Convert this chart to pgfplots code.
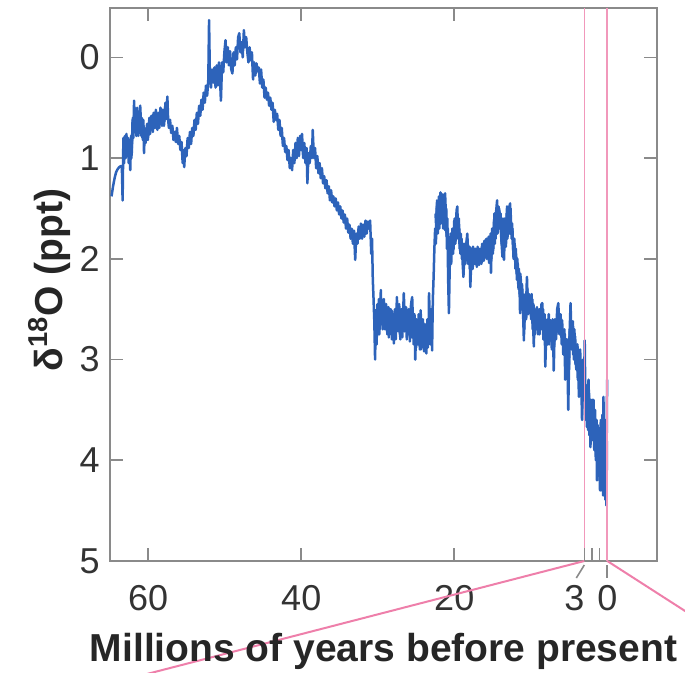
\documentclass[border=0pt]{standalone}
\usepackage{pgfplots}
\pgfplotsset{compat=1.18}
\usepackage{fontspec}
\setmainfont{Liberation Sans}
\definecolor{linblue}{HTML}{2D63BA}
\definecolor{pinkl}{HTML}{EE7FAA}
\definecolor{axgray}{HTML}{8A8A8A}
\definecolor{txt}{HTML}{333333}
\DeclareRobustCommand\dlabel{\textbf{δ\textsuperscript{18}O (ppt)}}
\pgfplotstableread{
x y
64.8 1.38
64.6 1.28
64.4 1.20
64.2 1.14
64.0 1.11
63.8 1.09
63.6 1.08
63.45 1.08
63.35 1.42
63.25 0.80
63.15 1.05
63.05 0.78
62.95 1.00
62.85 0.76
62.75 0.98
62.65 0.80
62.55 1.05
62.45 0.84
62.35 1.12
62.25 0.78
62.15 0.95
62.05 0.62
61.95 0.80
61.85 0.43
61.75 0.72
61.65 0.55
61.55 0.78
61.45 0.50
61.35 0.70
61.25 0.55
61.15 0.75
61.05 0.48
60.95 0.70
60.85 0.60
60.75 0.80
60.65 0.62
60.55 0.95
60.45 0.70
60.35 0.85
60.2 0.72
60.05 0.82
59.9 0.65
59.75 0.76
59.6 0.58
59.45 0.70
59.3 0.55
59.15 0.66
59.0 0.52
58.85 0.68
58.7 0.56
58.55 0.70
58.4 0.50
58.25 0.64
58.1 0.52
57.95 0.68
57.8 0.50
57.65 0.60
57.5 0.39
57.4 0.62
57.3 0.70
57.15 0.62
57.0 0.75
56.85 0.68
56.7 0.82
56.55 0.74
56.4 0.84
56.25 0.70
56.1 0.86
55.95 0.78
55.8 0.92
55.65 0.84
55.5 1.05
55.4 0.92
55.3 1.09
55.15 0.90
55.0 0.98
54.85 0.80
54.7 0.90
54.55 0.74
54.4 0.86
54.25 0.70
54.1 0.78
53.95 0.62
53.8 0.72
53.65 0.55
53.5 0.66
53.35 0.48
53.2 0.58
53.05 0.42
52.9 0.52
52.75 0.35
52.6 0.45
52.45 0.28
52.3 0.38
52.15 0.22
52.05 -0.37
51.95 0.15
51.8 0.30
51.65 0.12
51.5 0.25
51.35 0.10
51.2 0.30
51.05 0.08
50.9 0.28
50.75 0.05
50.6 0.25
50.5 0.43
50.35 0.05
50.2 0.15
50.05 -0.05
49.9 -0.17
49.75 0.05
49.6 -0.10
49.45 0.08
49.3 -0.06
49.15 0.12
49.0 0.16
48.85 -0.05
48.7 0.08
48.55 -0.10
48.4 0.02
48.25 -0.20
48.1 -0.24
47.95 -0.05
47.8 -0.15
47.65 0.00
47.5 -0.27
47.35 -0.10
47.2 -0.20
47.05 -0.05
46.9 0.05
46.75 -0.10
46.6 0.03
46.45 -0.05
46.3 0.22
46.15 0.05
46.0 0.18
45.85 0.06
45.7 0.14
45.55 0.10
45.4 0.26
45.25 0.12
45.1 0.30
44.95 0.22
44.8 0.40
44.65 0.30
44.5 0.42
44.35 0.35
44.2 0.48
44.05 0.40
43.9 0.52
43.75 0.45
43.6 0.64
43.45 0.52
43.3 0.62
43.15 0.56
43.0 0.72
42.85 0.62
42.7 0.78
42.55 0.70
42.4 0.88
42.25 0.80
42.1 0.94
41.95 0.88
41.8 1.02
41.65 0.92
41.5 1.10
41.35 1.00
41.2 1.12
41.05 0.92
40.9 1.05
40.75 0.85
40.6 1.00
40.45 0.80
40.3 0.98
40.15 0.78
40.0 0.92
39.9 0.76
39.75 1.00
39.6 0.85
39.45 1.05
39.3 0.90
39.2 1.25
39.05 0.95
38.9 1.05
38.75 0.88
38.6 1.00
38.5 0.72
38.35 1.00
38.2 0.90
38.05 1.10
37.9 0.98
37.75 1.15
37.6 1.05
37.45 1.20
37.3 1.10
37.15 1.25
37.0 1.18
36.85 1.30
36.7 1.22
36.55 1.35
36.4 1.28
36.25 1.42
36.1 1.32
35.95 1.44
35.8 1.38
35.65 1.48
35.5 1.40
35.35 1.52
35.2 1.44
35.05 1.56
34.9 1.48
34.75 1.60
34.6 1.52
34.45 1.64
34.3 1.56
34.15 1.70
34.0 1.60
33.85 1.74
33.7 1.66
33.55 1.80
33.4 1.70
33.25 1.85
33.1 1.72
32.95 2.01
32.8 1.75
32.65 1.85
32.5 1.68
32.35 1.80
32.2 1.65
32.05 1.80
31.9 1.66
31.75 1.78
31.6 1.62
31.45 1.75
31.3 1.63
31.15 1.70
31.0 1.62
30.85 1.95
30.75 1.80
30.65 2.20
30.55 2.40
30.45 2.62
30.35 3.00
30.25 2.55
30.15 2.85
30.05 2.45
29.95 2.75
29.85 2.40
29.75 2.70
29.6 2.31
29.5 2.65
29.4 2.42
29.3 2.58
29.2 2.40
29.05 2.70
28.9 2.45
28.75 2.75
28.6 2.48
28.45 2.72
28.3 2.50
28.15 2.80
28.0 2.55
27.9 2.84
27.75 2.50
27.6 2.70
27.5 2.38
27.35 2.72
27.2 2.45
27.05 2.80
26.9 2.50
26.75 2.70
26.6 2.34
26.45 2.65
26.3 2.48
26.1 2.68
25.95 2.50
25.8 2.82
25.65 2.45
25.5 2.38
25.35 2.75
25.2 2.55
25.1 3.00
24.95 2.60
24.8 2.85
24.65 2.55
24.5 2.90
24.4 2.51
24.25 2.80
24.1 2.60
23.95 2.92
23.8 2.65
23.65 2.94
23.5 2.60
23.35 2.80
23.3 2.34
23.15 2.70
23.0 2.50
22.9 2.91
22.8 2.40
22.7 2.18
22.6 1.90
22.5 1.70
22.4 1.85
22.3 1.50
22.2 1.45
22.1 1.60
22.0 1.38
21.9 1.55
21.8 1.34
21.65 1.50
21.5 1.36
21.35 1.60
21.2 1.35
21.1 1.55
21.0 1.78
20.9 1.60
20.8 2.20
20.7 2.54
20.6 2.10
20.5 1.85
20.4 2.05
20.3 1.78
20.15 1.95
20.0 1.62
19.85 1.85
19.7 1.52
19.6 1.48
19.5 1.80
19.35 1.70
19.2 1.95
19.05 1.80
18.9 2.05
18.8 2.18
18.7 1.90
18.55 2.05
18.4 1.85
18.3 1.75
18.15 2.00
18.0 1.88
17.9 2.28
17.75 1.95
17.6 2.10
17.45 1.90
17.3 2.05
17.2 1.91
17.05 2.08
16.9 1.92
16.75 2.06
16.6 1.95
16.45 2.05
16.3 1.88
16.15 2.02
15.9 1.85
15.75 2.00
15.6 1.80
15.45 2.04
15.3 1.78
15.2 2.14
15.1 1.80
14.95 1.95
14.8 1.62
14.7 1.85
14.55 1.55
14.4 1.42
14.3 1.70
14.15 1.50
14.0 1.58
13.85 1.80
13.7 1.98
13.6 1.70
13.5 2.01
13.4 1.75
13.25 1.88
13.1 1.48
13.0 1.70
12.85 1.50
12.7 1.45
12.6 1.75
12.45 1.65
12.3 1.90
12.2 1.95
12.1 1.85
12.0 2.10
11.9 1.98
11.8 2.21
11.7 2.05
11.6 2.30
11.5 2.15
11.4 2.54
11.3 2.20
11.2 2.40
11.1 2.30
10.9 2.81
10.8 2.40
10.65 2.55
10.5 2.18
10.4 2.45
10.25 2.35
10.1 2.38
9.95 2.60
9.8 2.40
9.6 2.87
9.5 2.50
9.35 2.70
9.2 2.48
9.05 2.75
8.9 2.50
8.75 2.65
8.6 2.45
8.5 2.44
8.35 2.80
8.2 2.55
8.1 3.07
7.95 2.65
7.8 2.85
7.65 2.55
7.5 2.80
7.4 2.61
7.25 2.90
7.1 2.65
7.0 3.11
6.85 2.60
6.7 2.80
6.55 2.50
6.4 2.44
6.25 2.75
6.1 2.55
5.95 2.85
5.9 2.61
5.75 2.95
5.6 2.70
5.5 3.20
5.35 2.80
5.2 3.05
5.1 3.50
4.95 2.80
4.8 2.44
4.65 2.90
4.5 2.62
4.35 3.00
4.2 2.77
4.05 3.10
3.9 2.85
3.7 3.37
3.55 2.90
3.4 3.20
3.3 3.60
3.15 3.00
3.05 3.40
2.95 2.81
2.85 3.50
2.75 3.30
2.65 3.67
2.55 3.35
2.45 3.20
2.35 3.75
2.25 3.45
2.2 3.87
2.1 3.50
2.0 3.80
1.9 3.45
1.8 3.40
1.7 3.90
1.6 3.50
1.5 4.00
1.4 3.60
1.35 4.20
1.25 3.65
1.15 4.10
1.05 3.70
0.95 4.30
0.85 3.60
0.75 4.25
0.65 3.55
0.55 4.35
0.5 3.37
0.4 4.20
0.3 3.70
0.26 4.39
0.18 3.80
0.12 4.45
0.06 3.60
0.02 3.20
}\dataA
\pgfplotstableread{
x y
62.4 0.95
62.3 0.82
62.2 1.0
62.1 0.78
62.0 0.6
61.9 0.75
61.8 0.5
61.7 0.68
61.6 0.52
61.5 0.72
61.4 0.58
61.3 0.78
61.2 0.6
61.1 0.72
61.0 0.55
60.9 0.78
60.8 0.62
60.7 0.82
60.6 0.68
60.5 0.85
60.4 0.72
60.3 0.8
60.15 0.66
60.0 0.78
59.85 0.6
59.7 0.72
59.55 0.6
59.4 0.74
59.25 0.58
59.1 0.7
58.95 0.55
58.8 0.72
58.65 0.55
58.5 0.66
58.35 0.55
58.2 0.68
58.05 0.55
57.9 0.64
57.75 0.45
57.6 0.62
nan nan
30.3 2.5
30.2 2.8
30.1 2.5
30.0 2.7
29.9 2.45
29.8 2.75
29.7 2.4
29.55 2.6
29.45 2.45
29.35 2.7
29.25 2.45
29.1 2.65
29.0 2.5
28.85 2.7
28.7 2.52
28.55 2.78
28.4 2.5
28.25 2.75
28.1 2.52
27.95 2.75
27.8 2.55
27.65 2.8
27.55 2.5
27.4 2.65
27.25 2.52
27.1 2.75
26.95 2.55
26.8 2.78
26.65 2.5
26.5 2.72
26.35 2.55
26.2 2.8
26.05 2.55
25.9 2.75
25.75 2.55
25.6 2.78
25.45 2.55
25.3 2.85
25.15 2.6
25.0 2.88
24.85 2.62
24.7 2.85
24.55 2.65
24.35 2.9
24.2 2.62
24.05 2.88
23.9 2.7
23.75 2.92
23.6 2.68
23.45 2.88
23.25 2.6
23.1 2.85
23.0 2.65
nan nan
22.45 1.55
22.35 1.7
22.25 1.42
22.15 1.75
22.05 1.45
21.95 1.7
21.85 1.4
21.75 1.65
21.6 1.38
21.45 1.7
21.3 1.4
21.15 1.72
21.05 1.5
20.95 1.9
20.85 1.7
20.75 2.0
20.65 1.8
20.55 2.0
20.45 1.75
20.35 1.95
20.25 1.7
20.1 1.9
19.95 1.6
19.8 1.8
19.65 1.55
19.55 1.75
19.4 1.6
19.3 1.9
19.15 1.75
19.0 2.0
18.85 1.85
18.75 2.1
18.6 1.85
18.5 2.0
18.35 1.8
18.2 2.05
18.05 1.9
17.95 2.1
17.8 1.9
17.7 2.05
17.55 1.88
17.4 2.05
17.25 1.9
17.1 2.05
16.95 1.88
16.8 2.02
16.65 1.9
16.5 2.0
16.35 1.85
16.2 2.0
16.05 1.82
15.95 1.98
15.8 1.8
15.65 1.98
15.5 1.78
15.35 1.95
15.25 1.75
15.15 2.0
15.05 1.7
14.9 1.9
14.75 1.55
14.6 1.8
14.5 1.5
14.35 1.75
14.2 1.48
14.1 1.7
13.95 1.55
13.8 1.85
13.65 1.6
13.55 1.9
13.45 1.6
13.3 1.85
13.15 1.55
13.05 1.8
12.9 1.52
12.75 1.75
12.65 1.5
12.5 1.8
12.4 1.7
12.25 2.0
12.15 1.8
12.05 2.0
11.95 1.9
11.85 2.15
11.75 2.0
11.65 2.25
11.55 2.1
11.45 2.35
11.35 2.15
11.25 2.45
11.15 2.25
11.05 2.5
10.95 2.5
10.85 2.7
10.7 2.35
10.6 2.6
10.45 2.3
10.3 2.55
10.2 2.4
10.05 2.5
9.9 2.35
9.75 2.7
9.65 2.45
9.45 2.75
9.3 2.5
9.15 2.7
9.0 2.55
8.85 2.75
8.7 2.5
8.55 2.7
8.4 2.5
8.25 2.75
8.05 2.6
7.9 2.85
7.75 2.6
7.6 2.85
7.45 2.65
7.3 2.8
7.15 2.6
6.95 2.85
6.8 2.65
6.65 2.75
6.5 2.55
6.35 2.7
6.2 2.55
6.05 2.75
5.85 2.7
5.7 2.85
5.55 2.75
5.4 3.0
5.25 2.8
5.0 3.1
4.9 2.7
4.75 2.8
4.6 2.65
4.45 2.95
4.3 2.7
4.15 3.05
4.0 2.9
3.85 3.2
3.75 2.95
3.6 3.25
3.5 3.05
3.35 3.35
3.2 3.1
3.1 3.4
3.0 3.2
2.9 3.6
2.8 3.25
2.7 3.55
2.6 3.4
2.5 3.7
2.4 3.3
2.3 3.6
2.15 3.4
2.05 3.7
1.95 3.4
1.85 3.8
1.75 3.5
1.65 3.85
1.55 3.6
1.45 3.95
1.3 3.7
1.2 4.15
1.1 3.75
1.0 4.2
0.9 3.8
0.8 4.3
0.7 3.7
0.6 4.2
0.45 3.6
0.35 4.3
0.22 3.6
0.15 4.3
0.08 3.7
0.04 4.1
}\dataB
\begin{document}
\begin{tikzpicture}
\useasboundingbox (-55pt,-56pt) rectangle (287.5pt,280.5pt);
\clip (-55pt,-56pt) rectangle (287.5pt,280.5pt);
\begin{axis}[
  at={(0,0)}, anchor=south west,
  scale only axis, width=273.5pt, height=276.5pt,
  x dir=reverse, y dir=reverse,
  xmin=-6.5, xmax=65, ymin=-0.49, ymax=5,
  clip=false, unbounded coords=jump,
  axis line style={axgray, line width=0.8pt},
  tick style={axgray, line width=0.8pt},
  tick align=inside, major tick length=6.5pt,
  xtick={60,40,20,0}, ytick={0,1,2,3,4,5},
  /pgf/number format/assume math mode=true,
  ticklabel style={font=\fontsize{18}{20}\selectfont, text=txt},
  xticklabel style={inner sep=0pt, anchor=north, yshift=-12pt},
  yticklabel style={inner sep=0pt, anchor=east, xshift=-5pt},
  xlabel={\textbf{Millions of years before present}},
  xlabel style={font=\fontsize{19.5}{22}\selectfont, text=black!85, at={(axis description cs:0.5,0)}, anchor=north, inner sep=0pt, yshift=-36pt},
  ylabel={\dlabel},
  ylabel style={font=\fontsize{19.5}{22}\selectfont, text=black!85, at={(axis description cs:-0.0859,0.508)}, anchor=base, inner sep=0pt},
]
\draw[pinkl, line width=1pt] (axis cs:3,5) -- (axis cs:66.2,6.24);
\draw[pinkl, line width=1pt] (axis cs:0,5) -- (axis cs:-14.75,5.72);
\addplot[linblue, line width=1.25pt, line join=round] table[x=x,y=y] {\dataA};
\addplot[linblue, line width=1.25pt, line join=round] table[x=x,y=y] {\dataB};
\draw[pinkl!80, line width=0.8pt] (axis cs:3,-0.49) -- (axis cs:3,5);
\draw[pinkl!80, line width=0.8pt] (axis cs:0,-0.49) -- (axis cs:0,5);
\draw[axgray, line width=0.8pt] (axis cs:3,5) -- ([yshift=6.5pt]axis cs:3,5);
\draw[axgray, line width=0.8pt] (axis cs:2,5) -- ([yshift=6.5pt]axis cs:2,5);
\draw[axgray, line width=0.8pt] (axis cs:1,5) -- ([yshift=6.5pt]axis cs:1,5);
\draw[axgray, line width=0.8pt] ([yshift=-2pt]axis cs:0,5) -- ([yshift=-8.5pt]axis cs:0,5);
\draw[axgray, line width=0.8pt] ([yshift=-2pt]axis cs:3,5) -- ([xshift=-4pt,yshift=-8.5pt]axis cs:3,5);
\node[anchor=north, inner sep=0pt, font=\fontsize{18}{20}\selectfont, text=txt] at ([yshift=-12pt, xshift=-5pt]axis cs:3,5) {3};
\end{axis}
\end{tikzpicture}
\end{document}
